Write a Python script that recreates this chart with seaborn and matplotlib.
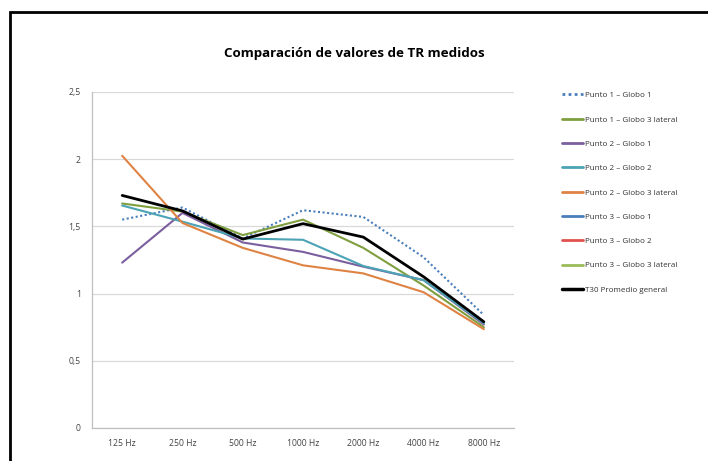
import numpy as np
import pandas as pd
import seaborn as sns
import matplotlib.pyplot as plt
from matplotlib.patches import Rectangle
from matplotlib.ticker import FuncFormatter

sns.set_theme(style="white")
plt.rcParams['font.family'] = ['Open Sans', 'DejaVu Sans']

frecuencias = ["125 Hz", "250 Hz", "500 Hz", "1000 Hz", "2000 Hz", "4000 Hz", "8000 Hz"]

p1_g1 = [1.55, 1.64, 1.41, 1.62, 1.57, 1.27, 0.84]
p1_g3_lat = [1.67, 1.61, 1.435, 1.55, 1.34, 1.06, 0.75]
p2_g1 = [1.23, 1.60, 1.38, 1.31, 1.20, 1.10, 0.77]
p2_g2 = [1.655, 1.535, 1.41, 1.40, 1.205, 1.10, 0.78]
p2_g3_lat = [2.025, 1.525, 1.34, 1.21, 1.15, 1.01, 0.735]
# las series del punto 3 no se ven en el grafico, solo en la leyenda
p3_g1 = [np.nan] * 7
p3_g2 = [np.nan] * 7
p3_g3_lat = [np.nan] * 7
t30_prom = [1.73, 1.615, 1.405, 1.52, 1.42, 1.125, 0.79]

series = [
    ("Punto 1 \u2013 Globo 1", p1_g1, "#4A7EBB", (0, (1, 1.2))),
    ("Punto 1 \u2013 Globo 3 lateral", p1_g3_lat, "#7F9F3F", "-"),
    ("Punto 2 \u2013 Globo 1", p2_g1, "#7B5E9E", "-"),
    ("Punto 2 \u2013 Globo 2", p2_g2, "#4BA3B5", "-"),
    ("Punto 2 \u2013 Globo 3 lateral", p2_g3_lat, "#DE8344", "-"),
    ("Punto 3 \u2013 Globo 1", p3_g1, "#4A7EBB", "-"),
    ("Punto 3 \u2013 Globo 2", p3_g2, "#E0504D", "-"),
    ("Punto 3 \u2013 Globo 3 lateral", p3_g3_lat, "#9BBB59", "-"),
    ("T30 Promedio general", t30_prom, "black", "-"),
]

fig = plt.figure(figsize=(7.08, 4.61), dpi=100)
ax = fig.add_axes([0.130, 0.0716, 0.596, 0.729])

x = np.arange(len(frecuencias))
handles = []
for nombre, vals, color, ls in series:
    df = pd.DataFrame({"x": x, "y": vals})
    lw = 2.0 if nombre.startswith("T30") else 1.5
    sns.lineplot(data=df, x="x", y="y", ax=ax, color=color, linestyle=ls,
                 linewidth=lw, label=nombre, legend=False)
    handles.append(plt.Line2D([], [], color=color, linestyle=ls, linewidth=lw + 0.5))

ax.set_xlim(-0.5, len(frecuencias) - 0.5)
ax.set_ylim(0, 2.5)
ax.set_yticks([0, 0.5, 1, 1.5, 2, 2.5])
ax.yaxis.set_major_formatter(FuncFormatter(lambda v, p: ("%g" % v).replace(".", ",")))
ax.set_xticks(x)
ax.set_xticklabels(frecuencias)
ax.set_xticks(np.arange(-0.5, len(frecuencias)), minor=True)
ax.tick_params(axis="x", which="major", length=0, pad=8, labelsize=6.2, labelcolor="#444444")
ax.tick_params(axis="x", which="minor", length=3, color="#BFBFBF", direction="out")
ax.tick_params(axis="y", length=4, color="#BFBFBF", direction="out", labelsize=6.2,
               labelcolor="#444444", pad=4)
ax.set_xlabel("")
ax.set_ylabel("")
ax.grid(axis="y", color="#D9D9D9", linewidth=0.9)
ax.set_axisbelow(True)
for s in ["top", "right"]:
    ax.spines[s].set_visible(False)
for s in ["left", "bottom"]:
    ax.spines[s].set_color("#BFBFBF")
    ax.spines[s].set_linewidth(0.9)

fig.text(0.5, 0.885, "Comparación de valores de TR medidos", ha="center", va="center",
         fontsize=9.6, fontweight="bold", color="black")

fig.legend(handles, [s[0] for s in series], loc="upper left",
           bbox_to_anchor=(0.783, 0.817), frameon=False, fontsize=5.8,
           handlelength=2.6, handletextpad=0.35, labelspacing=2.07,
           labelcolor="#333333")

fig.patches.append(Rectangle((10 / 708, -0.1), 1.2, 1 - 12 / 461 + 0.1,
                             transform=fig.transFigure, fill=False,
                             edgecolor="black", linewidth=2.0))

fig.savefig("out.png", dpi=100)
